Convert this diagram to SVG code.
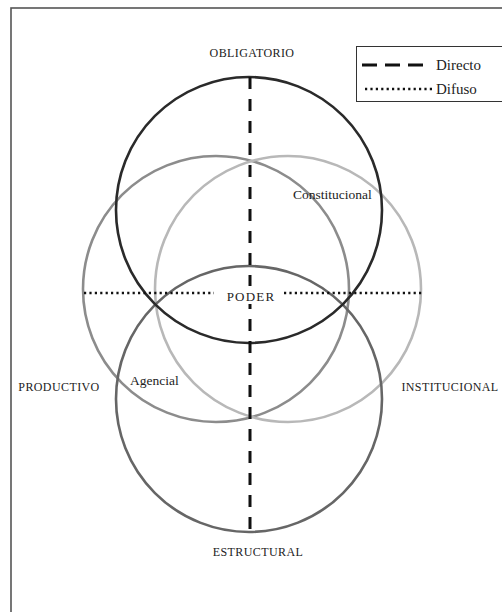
<svg xmlns="http://www.w3.org/2000/svg" width="502" height="612" viewBox="0 0 502 612">
<style>
.lbl{font-family:"Liberation Serif",serif;font-size:12px;letter-spacing:0.4px;fill:#222;text-anchor:middle}
.it{font-family:"Liberation Serif",serif;font-size:13.5px;fill:#222}
.leg{font-family:"Liberation Serif",serif;font-size:15px;fill:#222}
.c{fill:none;stroke-width:2.6}
.dash{stroke:#111;stroke-width:3;stroke-dasharray:12 10;fill:none}
.dot{stroke:#111;stroke-width:2.4;stroke-dasharray:2.2 3.2;fill:none}
</style>
<rect x="0" y="0" width="502" height="612" fill="#fff"/>
<rect x="11" y="8" width="500" height="620" fill="none" stroke="#555" stroke-width="1.6"/>
<g id="legend">
<rect x="356.5" y="46.5" width="150" height="55" fill="#fff" stroke="#333" stroke-width="1"/>
<line x1="362" y1="65" x2="430" y2="65" class="dash" style="stroke-dasharray:15 8"/>
<text x="436" y="70" class="leg">Directo</text>
<line x1="365" y1="89" x2="433" y2="89" class="dot"/>
<text x="436" y="94" class="leg">Difuso</text>
</g>
<g id="circles">
<g id="productivo-circle"><circle cx="216" cy="289" r="133" class="c" stroke="#8c8c8c"/></g>
<g id="institucional-circle"><circle cx="288" cy="289" r="133" class="c" stroke="#b8b8b8"/></g>
<g id="estructural-circle"><circle cx="249" cy="399" r="133" class="c" stroke="#666"/></g>
<g id="obligatorio-circle"><circle cx="249" cy="210" r="133" class="c" stroke="#2a2a2a"/></g>
</g>
<g id="connectors">
<line x1="250" y1="77" x2="250" y2="532" class="dash"/>
<line x1="84" y1="293" x2="214" y2="293" class="dot"/>
<line x1="284" y1="293" x2="422" y2="293" class="dot"/>
</g>
<g id="labels">
<g id="obligatorio"><text x="252" y="57" class="lbl">OBLIGATORIO</text></g>
<g id="estructural"><text x="258" y="556" class="lbl">ESTRUCTURAL</text></g>
<g id="productivo"><text x="59" y="391" class="lbl">PRODUCTIVO</text></g>
<g id="institucional"><text x="450" y="391" class="lbl">INSTITUCIONAL</text></g>
<g id="poder"><rect x="221" y="286" width="58" height="18" fill="#fff"/><text x="251" y="301" class="lbl" style="font-size:13px;letter-spacing:1.2px">PODER</text></g>
<g id="constitucional"><text x="293" y="199" class="it">Constitucional</text></g>
<g id="agencial"><text x="130" y="385" class="it">Agencial</text></g>
</g>
</svg>
